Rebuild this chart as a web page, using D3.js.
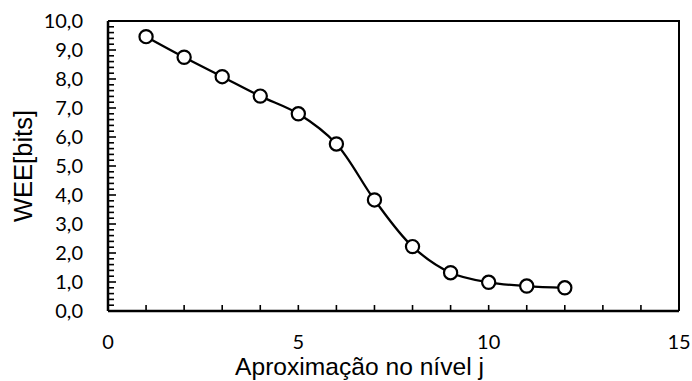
<!DOCTYPE html>
<html><head><meta charset="utf-8">
<script src="https://cdn.jsdelivr.net/npm/d3@7"></script>
<style>body{margin:0;background:#fff}</style>
</head><body>
<svg id="c" width="692" height="381"></svg>
<script>
const levels = [1,2,3,4,5,6,7,8,9,10,11,12];
const wee = [9.46,8.75,8.08,7.41,6.80,5.76,3.83,2.22,1.32,0.99,0.86,0.80];
const xTicks = [0,5,10,15];
const yTicks = [0,1,2,3,4,5,6,7,8,9,10];
const xTitle = "Aproximação no nível j";
const yTitle = "WEE[bits]";

const svg = d3.select("#c");
const L=108, R=679, T=21, B=311;
const x = d3.scaleLinear().domain([0,15]).range([L,R]);
const y = d3.scaleLinear().domain([0,10]).range([B,T]);
const tickFont = "Lato, 'Open Sans', sans-serif";
const titleFont = "'Liberation Sans', Arial, sans-serif";

// frame top/right
svg.append("path").attr("d",`M${L},${T}H${R}V${B}`).attr("fill","none").attr("stroke","#000").attr("stroke-width",2);

// x minor ticks (inward)
const xg = svg.append("g");
xg.selectAll("line").data(d3.range(1,15)).join("line")
  .attr("x1",d=>x(d)).attr("x2",d=>x(d)).attr("y1",B).attr("y2",B-6)
  .attr("stroke","#000").attr("stroke-width",1.6);
// y ticks
const yg = svg.append("g");
yg.selectAll("line").data(d3.range(1,50).map(i=>i/5)).join("line")
  .attr("x1",L).attr("x2",d=>L+(Math.abs(d-Math.round(d))<1e-9?8:6))
  .attr("y1",d=>y(d)).attr("y2",d=>y(d))
  .attr("stroke","#000").attr("stroke-width",1.6);

// axes lines
svg.append("line").attr("x1",L).attr("x2",R).attr("y1",B).attr("y2",B).attr("stroke","#000").attr("stroke-width",2.5);
svg.append("line").attr("x1",L).attr("x2",L).attr("y1",T).attr("y2",B).attr("stroke","#000").attr("stroke-width",2.5);

// tick labels
svg.append("g").selectAll("text").data(xTicks).join("text")
  .attr("x",d=>x(d)).attr("y",349).attr("text-anchor","middle")
  .attr("font-family",tickFont).attr("font-size",20).text(d=>d);
svg.append("g").selectAll("text").data(yTicks).join("text")
  .attr("x",83).attr("y",d=>y(d)).attr("dy","0.36em").attr("text-anchor","end")
  .attr("font-family",tickFont).attr("font-size",20).text(d=>d.toFixed(1).replace(".",","));

// titles
svg.append("text").attr("x",359.5).attr("y",375).attr("text-anchor","middle")
  .attr("font-family",titleFont).attr("font-size",24.6).text(xTitle);
svg.append("text").attr("transform","translate(32,166) rotate(-90)").attr("text-anchor","middle")
  .attr("font-family",titleFont).attr("font-size",25.5).text(yTitle);

// line
const data = levels.map((l,i)=>({l, v:wee[i]}));
svg.append("path").datum(data)
  .attr("d", d3.line().x(d=>x(d.l)).y(d=>y(d.v)).curve(d3.curveCatmullRom.alpha(0.5)))
  .attr("fill","none").attr("stroke","#000").attr("stroke-width",2.3);
svg.append("g").selectAll("circle").data(data).join("circle")
  .attr("cx",d=>x(d.l)).attr("cy",d=>y(d.v)).attr("r",6.6)
  .attr("fill","#fff").attr("stroke","#000").attr("stroke-width",2.2);
</script>
</body></html>
